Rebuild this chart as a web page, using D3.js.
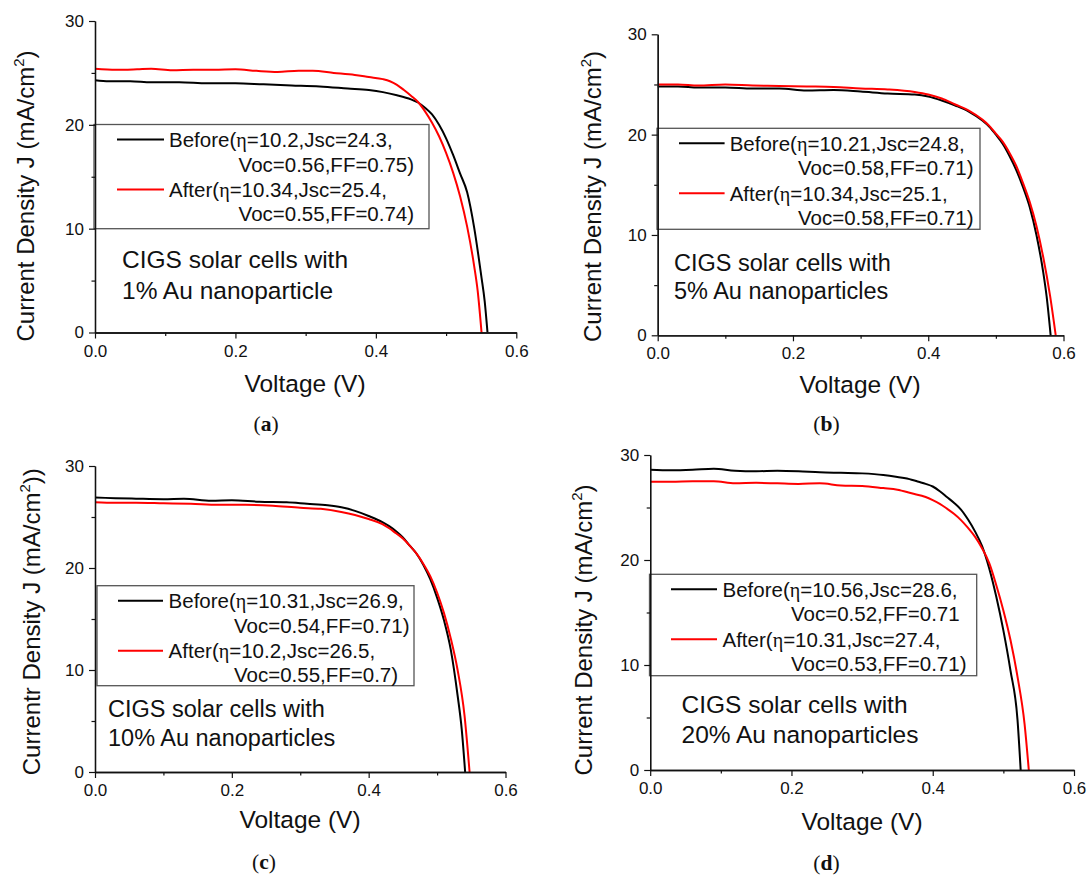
<!DOCTYPE html>
<html><head><meta charset="utf-8">
<script src="https://cdn.jsdelivr.net/npm/d3@7"></script>
<style>html,body{margin:0;padding:0;background:#fff;} svg{display:block;}</style>
</head><body>
<svg id="chart" width="1089" height="877"></svg>
<script>
// ---------- DATA ----------
const panelIds = ["a", "b", "c", "d"];
const seriesNames = ["Before", "After"];
const seriesColors = ["#000000", "#ff0000"];

const xMajorTicks = [0, 0.2, 0.4, 0.6];
const xTickLabels = ["0.0", "0.2", "0.4", "0.6"];
const xMinorTicks = [0.1, 0.3, 0.5];
const yMajorTicks = [0, 10, 20, 30];
const yTickLabels = ["0", "10", "20", "30"];
const yMinorTicks = [5, 15, 25];

// Panel (a) 1% Au
const vA_before = [0, 0.02, 0.05, 0.08, 0.12, 0.16, 0.2, 0.24, 0.28, 0.32, 0.36, 0.39, 0.41, 0.43, 0.45, 0.46, 0.47, 0.48, 0.49, 0.50, 0.51, 0.52, 0.53, 0.54, 0.55, 0.555, 0.559];
const jA_before = [24.3, 24.2, 24.2, 24.1, 24.1, 24.0, 24.0, 23.9, 23.8, 23.7, 23.5, 23.35, 23.15, 22.85, 22.45, 22.15, 21.65, 21.0, 20.0, 18.7, 17.1, 15.3, 13.5, 10.1, 5.5, 3.0, 0];
const vA_after = [0, 0.03, 0.06, 0.08, 0.11, 0.14, 0.17, 0.2, 0.23, 0.26, 0.29, 0.31, 0.34, 0.37, 0.39, 0.41, 0.42, 0.43, 0.44, 0.45, 0.46, 0.47, 0.48, 0.49, 0.50, 0.51, 0.52, 0.53, 0.54, 0.545, 0.5505];
const jA_after = [25.4, 25.3, 25.35, 25.4, 25.25, 25.3, 25.3, 25.35, 25.2, 25.1, 25.2, 25.2, 25.0, 24.8, 24.6, 24.4, 24.2, 23.85, 23.35, 22.8, 22.2, 21.3, 20.2, 18.9, 17.3, 15.4, 13.1, 10.2, 6.4, 4.0, 0];

// Panel (b) 5% Au
const vB_before = [0, 0.03, 0.06, 0.1, 0.14, 0.18, 0.22, 0.26, 0.3, 0.34, 0.38, 0.4, 0.42, 0.44, 0.46, 0.48, 0.49, 0.50, 0.51, 0.52, 0.53, 0.54, 0.55, 0.56, 0.57, 0.575, 0.581];
const jB_before = [24.8, 24.8, 24.7, 24.7, 24.6, 24.6, 24.4, 24.45, 24.3, 24.1, 24.0, 23.8, 23.4, 22.9, 22.3, 21.4, 20.8, 20.0, 19.1, 17.9, 16.5, 14.8, 12.8, 10.0, 6.3, 3.9, 0];
const vB_after = [0, 0.03, 0.06, 0.1, 0.14, 0.18, 0.22, 0.26, 0.3, 0.34, 0.38, 0.4, 0.42, 0.44, 0.46, 0.48, 0.49, 0.50, 0.51, 0.52, 0.53, 0.54, 0.55, 0.56, 0.57, 0.58, 0.5885];
const jB_after = [25.0, 25.0, 24.9, 25.0, 24.9, 24.85, 24.8, 24.75, 24.6, 24.5, 24.25, 24.0, 23.6, 23.0, 22.4, 21.5, 20.9, 20.1, 19.3, 18.2, 16.9, 15.2, 13.3, 10.9, 7.8, 4.0, 0];

// Panel (c) 10% Au
const vC_before = [0, 0.03, 0.06, 0.1, 0.13, 0.17, 0.2, 0.24, 0.28, 0.31, 0.34, 0.36, 0.38, 0.40, 0.42, 0.43, 0.44, 0.45, 0.46, 0.47, 0.48, 0.49, 0.50, 0.51, 0.52, 0.53, 0.536, 0.541];
const jC_before = [26.9, 26.85, 26.8, 26.75, 26.8, 26.6, 26.65, 26.5, 26.45, 26.3, 26.15, 25.95, 25.6, 25.1, 24.5, 24.1, 23.6, 23.0, 22.2, 21.4, 20.3, 18.9, 17.1, 14.9, 12.0, 7.5, 4.2, 0];
const vC_after = [0, 0.03, 0.06, 0.1, 0.14, 0.18, 0.22, 0.26, 0.3, 0.33, 0.36, 0.38, 0.40, 0.42, 0.43, 0.44, 0.45, 0.46, 0.47, 0.48, 0.49, 0.50, 0.51, 0.52, 0.53, 0.54, 0.5475];
const jC_after = [26.45, 26.4, 26.4, 26.35, 26.3, 26.2, 26.2, 26.1, 25.9, 25.8, 25.5, 25.2, 24.8, 24.3, 23.9, 23.4, 22.9, 22.2, 21.4, 20.4, 19.2, 17.6, 15.6, 13.1, 10.0, 5.6, 0];

// Panel (d) 20% Au
const vD_before = [0, 0.03, 0.06, 0.09, 0.12, 0.15, 0.18, 0.21, 0.24, 0.27, 0.3, 0.33, 0.35, 0.37, 0.38, 0.39, 0.40, 0.41, 0.42, 0.43, 0.44, 0.45, 0.46, 0.47, 0.48, 0.49, 0.50, 0.51, 0.52, 0.5245];
const jD_before = [28.6, 28.55, 28.6, 28.7, 28.5, 28.45, 28.5, 28.45, 28.35, 28.3, 28.25, 28.1, 27.9, 27.65, 27.45, 27.25, 27.0, 26.55, 26.0, 25.45, 24.8, 23.85, 22.7, 21.3, 19.2, 16.5, 13.3, 9.5, 4.8, 0];
const vD_after = [0, 0.03, 0.06, 0.09, 0.12, 0.15, 0.18, 0.21, 0.24, 0.27, 0.3, 0.33, 0.35, 0.37, 0.39, 0.40, 0.41, 0.42, 0.43, 0.44, 0.45, 0.46, 0.47, 0.48, 0.49, 0.50, 0.51, 0.52, 0.53, 0.536];
const jD_after = [27.45, 27.45, 27.5, 27.5, 27.3, 27.35, 27.3, 27.25, 27.3, 27.1, 27.05, 26.85, 26.7, 26.35, 26.0, 25.7, 25.35, 24.9, 24.4, 23.8, 23.05, 22.2, 21.1, 19.7, 17.6, 15.2, 12.4, 8.9, 4.4, 0];

// Legend texts (line1, line2) per series
const legendA = [["Before(η=10.2,Jsc=24.3,", "Voc=0.56,FF=0.75)"], ["After(η=10.34,Jsc=25.4,", "Voc=0.55,FF=0.74)"]];
const legendB = [["Before(η=10.21,Jsc=24.8,", "Voc=0.58,FF=0.71)"], ["After(η=10.34,Jsc=25.1,", "Voc=0.58,FF=0.71)"]];
const legendC = [["Before(η=10.31,Jsc=26.9,", "Voc=0.54,FF=0.71)"], ["After(η=10.2,Jsc=26.5,", "Voc=0.55,FF=0.7)"]];
const legendD = [["Before(η=10.56,Jsc=28.6,", "Voc=0.52,FF=0.71"], ["After(η=10.31,Jsc=27.4,", "Voc=0.53,FF=0.71)"]];

const annotA = ["CIGS solar cells with", "1% Au nanoparticle"];
const annotB = ["CIGS solar cells with", "5% Au nanoparticles"];
const annotC = ["CIGS solar cells with", "10% Au nanoparticles"];
const annotD = ["CIGS solar cells with", "20% Au nanoparticles"];

const yTitleA = ["Current Density J (mA/cm", "2", ")"];
const yTitleB = ["Current Density J (mA/cm", "2", ")"];
const yTitleC = ["Currentr Density J (mA/cm", "2", "))"];
const yTitleD = ["Current Density J (mA/cm", "2", ")"];
const xTitle = "Voltage (V)";
const captions = ["a", "b", "c", "d"];

// ---------- LAYOUT (pixel positions, styles) ----------
const layout = {
  a: {x0: 95, x1: 516.3, yTop: 21, yBot: 332.5,
      lg: {x: 94, y: 124.5, w: 335, h: 104.2, l1: 23, l2: 70, tx: 75, ind: 144.6},
      an: {x: 122, y1: 268, y2: 298.5, fs: 24.5},
      yt: {x: 34, cy: 196}, xt: {cx: 305, y: 392}, cap: {cx: 266, y: 431}},
  b: {x0: 657.7, x1: 1063.5, yTop: 34.3, yBot: 335.3,
      lg: {x: 657, y: 128.3, w: 323, h: 101, l1: 22, l2: 67.6, tx: 72.7, ind: 141},
      an: {x: 674, y1: 270.7, y2: 299.3, fs: 23.5},
      yt: {x: 600.5, cy: 196.5}, xt: {cx: 860, y: 393}, cap: {cx: 826.5, y: 431}},
  c: {x0: 95, x1: 505.5, yTop: 466, yBot: 772,
      lg: {x: 97, y: 585.7, w: 317, h: 100, l1: 21, l2: 66, tx: 71.6, ind: 137},
      an: {x: 108, y1: 717.3, y2: 746, fs: 23.5},
      yt: {x: 39.6, cy: 621.7}, xt: {cx: 300, y: 828}, cap: {cx: 264, y: 869}},
  d: {x0: 650.2, x1: 1074, yTop: 455, yBot: 770,
      lg: {x: 649.5, y: 574.3, w: 327.2, h: 101.4, l1: 21.5, l2: 67.5, tx: 73, ind: 141.5},
      an: {x: 681.5, y1: 712.7, y2: 743.3, fs: 24.5},
      yt: {x: 592, cy: 630}, xt: {cx: 862, y: 830}, cap: {cx: 826.5, y: 870}}
};

const panelData = {
  a: {series: [[vA_before, jA_before], [vA_after, jA_after]], legend: legendA, annot: annotA, yTitle: yTitleA},
  b: {series: [[vB_before, jB_before], [vB_after, jB_after]], legend: legendB, annot: annotB, yTitle: yTitleB},
  c: {series: [[vC_before, jC_before], [vC_after, jC_after]], legend: legendC, annot: annotC, yTitle: yTitleC},
  d: {series: [[vD_before, jD_before], [vD_after, jD_after]], legend: legendD, annot: annotD, yTitle: yTitleD}
};

const SANS = "'Liberation Sans', Arial, Helvetica, sans-serif";
const SERIF = "'Liberation Serif', 'Times New Roman', serif";
const svg = d3.select("#chart");

function addEtaText(sel, str) {
  const parts = str.split("η");
  sel.append("tspan").text(parts[0]);
  if (parts.length > 1) {
    sel.append("tspan").attr("font-family", SERIF).attr("font-size", "0.98em").text("η");
    sel.append("tspan").text(parts[1]);
  }
}

panelIds.forEach((id, pi) => {
  const L = layout[id], D = panelData[id];
  const g = svg.append("g").attr("class", "panel-" + id);
  const x = d3.scaleLinear().domain([0, 0.6]).range([L.x0, L.x1]);
  const y = d3.scaleLinear().domain([0, 30]).range([L.yBot, L.yTop]);

  // curves
  const line = d3.line().x(d => x(d[0])).y(d => y(d[1])).curve(d3.curveMonotoneX);
  D.series.forEach((s, si) => {
    const pts = s[0].map((v, k) => [v, s[1][k]]);
    g.append("path").datum(pts).attr("d", line)
      .attr("fill", "none").attr("stroke", seriesColors[si]).attr("stroke-width", 2)
      .attr("stroke-linejoin", "round");
  });

  // legend box
  const lg = L.lg;
  const leg = g.append("g");
  leg.append("rect").attr("x", lg.x).attr("y", lg.y).attr("width", lg.w).attr("height", lg.h)
    .attr("fill", "#fff").attr("stroke", "#555").attr("stroke-width", 1.3);
  const lineYs = [15, 65], baseYs = [[22.5, 47], [72.5, 96.5]];
  D.legend.forEach((txt, si) => {
    leg.append("line").attr("x1", lg.x + lg.l1).attr("x2", lg.x + lg.l2)
      .attr("y1", lg.y + lineYs[si]).attr("y2", lg.y + lineYs[si])
      .attr("stroke", seriesColors[si]).attr("stroke-width", 2);
    const t1 = leg.append("text").attr("x", lg.x + lg.tx).attr("y", lg.y + baseYs[si][0])
      .attr("font-family", SANS).attr("font-size", 20.5).attr("fill", "#111");
    addEtaText(t1, txt[0]);
    leg.append("text").attr("x", lg.x + lg.ind).attr("y", lg.y + baseYs[si][1])
      .attr("font-family", SANS).attr("font-size", 20.5).attr("fill", "#111").text(txt[1]);
  });

  // axes
  const xAxisMajor = d3.axisBottom(x).tickValues(xMajorTicks).tickSize(6).tickSizeOuter(0).tickPadding(6)
    .tickFormat((d, i) => xTickLabels[i]);
  const xAxisMinor = d3.axisBottom(x).tickValues(xMinorTicks).tickSize(3.5).tickSizeOuter(0).tickFormat("");
  const yAxisMajor = d3.axisLeft(y).tickValues(yMajorTicks).tickSize(6).tickSizeOuter(0).tickPadding(5)
    .tickFormat((d, i) => yTickLabels[i]);
  const yAxisMinor = d3.axisLeft(y).tickValues(yMinorTicks).tickSize(3.5).tickSizeOuter(0).tickFormat("");

  [[xAxisMinor, "x"], [xAxisMajor, "x"], [yAxisMinor, "y"], [yAxisMajor, "y"]].forEach(([ax, k]) => {
    const a = g.append("g").attr("transform", k === "x" ? `translate(0,${L.yBot})` : `translate(${L.x0},0)`).call(ax);
    a.select(".domain").attr("stroke", "#111").attr("stroke-width", 1.3);
    a.selectAll(".tick line").attr("stroke", "#111").attr("stroke-width", 1.2);
    a.selectAll("text").attr("font-family", SANS).attr("font-size", 17).attr("fill", "#111");
  });

  // annotation
  const an = L.an;
  D.annot.forEach((s, k) => {
    g.append("text").attr("x", an.x).attr("y", k === 0 ? an.y1 : an.y2)
      .attr("font-family", SANS).attr("font-size", an.fs).attr("fill", "#111").text(s);
  });

  // y title
  const yt = g.append("text").attr("transform", `translate(${L.yt.x},${L.yt.cy}) rotate(-90)`)
    .attr("text-anchor", "middle").attr("font-family", SANS).attr("font-size", 24).attr("fill", "#111");
  yt.append("tspan").text(D.yTitle[0]);
  yt.append("tspan").attr("font-size", 15).attr("dy", -10).text(D.yTitle[1]);
  yt.append("tspan").attr("dy", 10).text(D.yTitle[2]);

  // x title
  g.append("text").attr("x", L.xt.cx).attr("y", L.xt.y).attr("text-anchor", "middle")
    .attr("font-family", SANS).attr("font-size", 24.5).attr("fill", "#111").text(xTitle);

  // caption
  const cap = g.append("text").attr("x", L.cap.cx).attr("y", L.cap.y).attr("text-anchor", "middle")
    .attr("font-family", SERIF).attr("font-size", 21.5).attr("fill", "#111");
  cap.append("tspan").text("(");
  cap.append("tspan").attr("font-weight", "bold").text(captions[pi]);
  cap.append("tspan").text(")");
});
</script>
</body></html>
